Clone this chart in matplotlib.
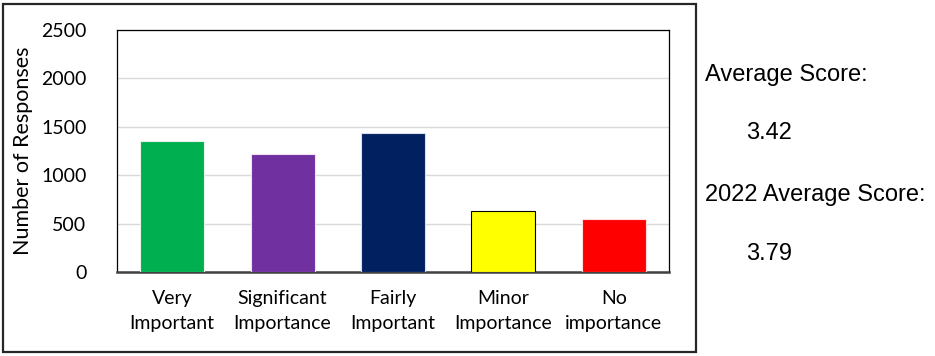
import matplotlib.pyplot as plt
from matplotlib.patches import Rectangle

# Data
categories = ["Very\nImportant", "Significant\nImportance", "Fairly\nImportant",
              "Minor\nImportance", "No\nimportance"]
responses = [1355, 1215, 1440, 630, 550]
bar_colors = ["#00b050", "#7030a0", "#002060", "#ffff00", "#ff0000"]
edge_colors = ["#e8f5ec", "#ece4f3", "#d9deea", "#000000", "#ffe0e0"]
y_ticks = [0, 500, 1000, 1500, 2000, 2500]

side_texts = ["Average Score:", "3.42", "2022 Average Score:", "3.79"]
average_score = 3.42
average_2022 = 3.79

fig = plt.figure(figsize=(9.35, 3.56), dpi=100)

# outer frame around the chart
fig.patches.append(Rectangle((3 / 935, 4 / 356), 693 / 935, 348 / 356,
                             transform=fig.transFigure, fill=False,
                             edgecolor="#262626", linewidth=1.6))

ax = fig.add_axes([117 / 935, 1 - 272 / 356, 552 / 935, 242 / 356])

x = range(len(categories))
ax.bar(x, responses, width=0.58, color=bar_colors, edgecolor=edge_colors,
       linewidth=0.8, zorder=3)

ax.set_xlim(-0.5, len(categories) - 0.5)
ax.set_ylim(0, 2500)
ax.set_yticks(y_ticks)
ax.set_yticklabels([str(t) for t in y_ticks], fontsize=14, family="Lato")
ax.set_xticks(list(x))
ax.set_xticklabels(categories, fontsize=14, family="Lato", linespacing=1.55)
ax.tick_params(axis="both", length=0)
ax.tick_params(axis="x", pad=13)
ax.tick_params(axis="y", pad=22)

ax.grid(axis="y", color="#d9d9d9", linewidth=1, zorder=0)
for side in ["top", "left", "right"]:
    ax.spines[side].set_color("#000000")
    ax.spines[side].set_linewidth(0.9)
ax.spines["bottom"].set_color("#404040")
ax.spines["bottom"].set_linewidth(1.8)

ax.set_ylabel("Number of Responses", fontsize=15.5, family="Lato", labelpad=6)

# scores on the right
fig.text(705 / 935, 1 - 75 / 356, side_texts[0], fontsize=17,
         family="Liberation Sans", va="center")
fig.text(746 / 935, 1 - 133 / 356, f"{average_score:.2f}", fontsize=17,
         family="Liberation Sans", va="center")
fig.text(705 / 935, 1 - 195 / 356, side_texts[2], fontsize=17,
         family="Liberation Sans", va="center")
fig.text(746 / 935, 1 - 254 / 356, f"{average_2022:.2f}", fontsize=17,
         family="Liberation Sans", va="center")

fig.savefig("out.png", dpi=100)
